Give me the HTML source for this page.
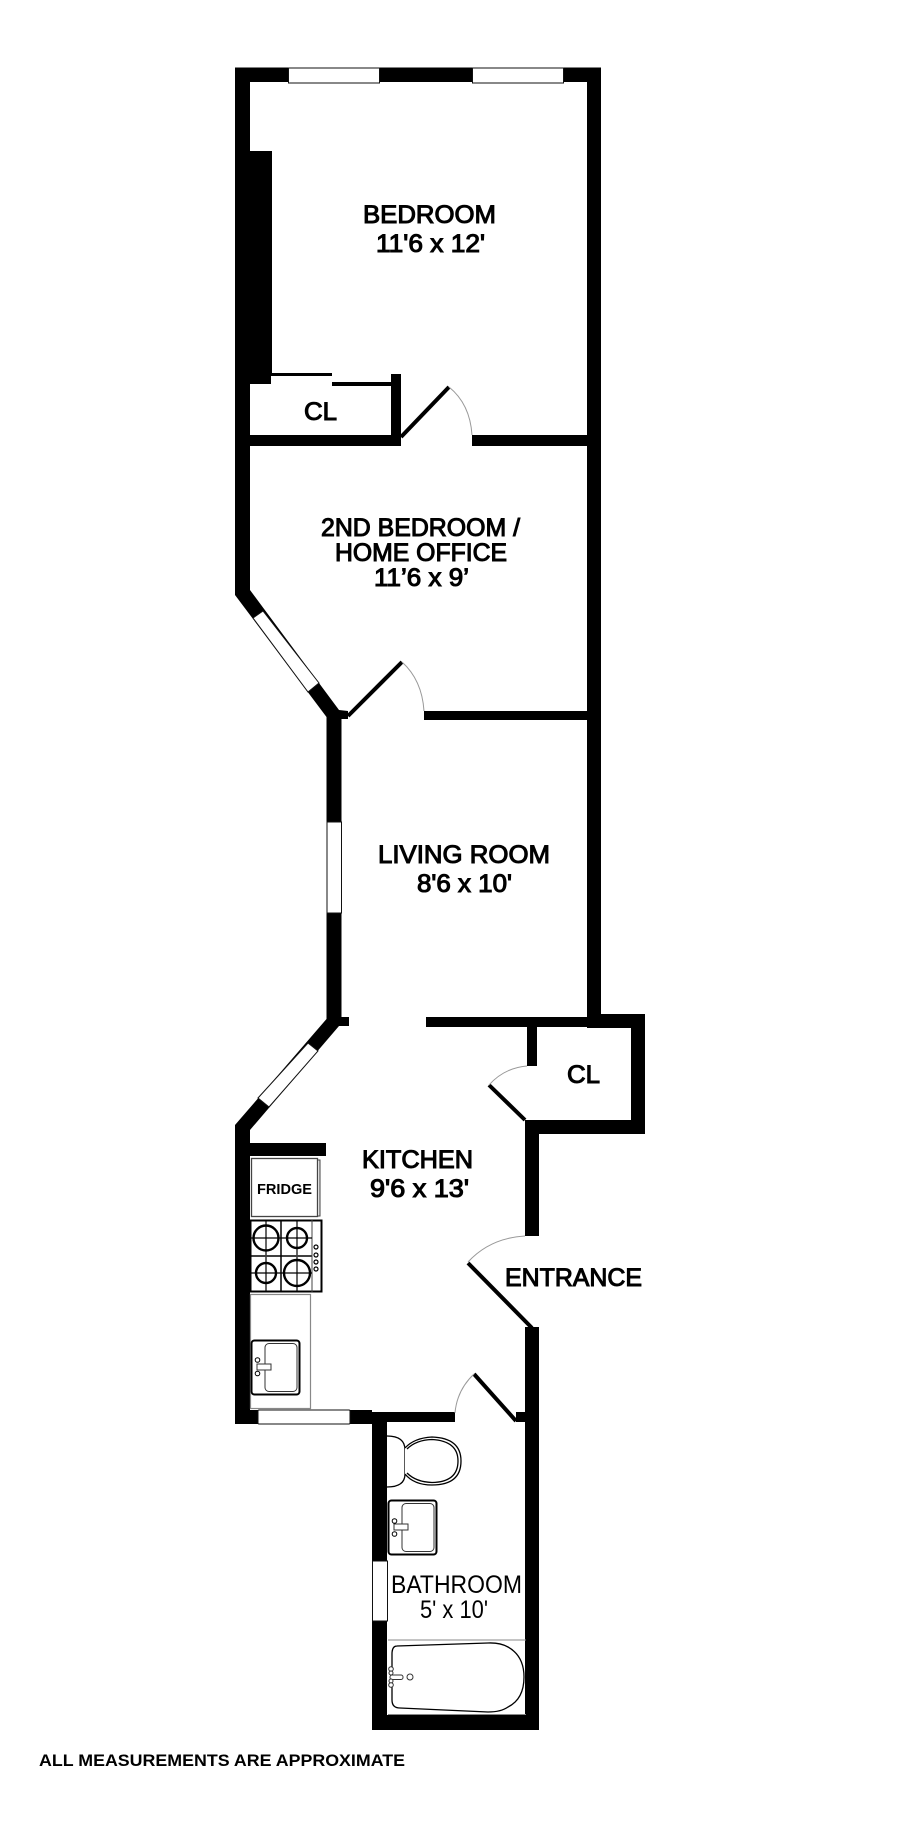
<!DOCTYPE html>
<html><head><meta charset="utf-8"><style>
html,body{margin:0;padding:0;background:#fff}
svg{display:block}
text{font-family:"Liberation Sans",Arial,sans-serif;fill:#000}
.b{stroke:#000;stroke-width:1.050}
</style></head><body>
<svg xmlns="http://www.w3.org/2000/svg" width="900" height="1822" viewBox="0 0 900 1822">
<rect width="900" height="1822" fill="#fff"/>
<!-- walls -->
<g fill="#000">
<path d="M235 67.5H601V1014H645V1134H539V1236H525V1120H631V1028H601H587V82H250V151H272V373H332V376H271V384H250V435H391V374H401V446H250V590L339 710L348 711V719H341.500V1017H349V1026H339L250 1130V1143H326V1156H250V1410H372V1424H235V1125L326.500 1019V717L235 595Z"/>
<rect x="332" y="382" width="60" height="4"/>
<rect x="472" y="435" width="116" height="11"/>
<rect x="424" y="711" width="164" height="9"/>
<rect x="426" y="1017" width="162" height="10"/>
<rect x="527" y="1026" width="10" height="40"/>
<path d="M525 1120H531V1134H525Z"/>
<path d="M525 1327H539V1715V1730H372V1412H455V1422H387V1715H525V1422H516V1412H525Z"/>
</g>
<!-- windows -->
<g fill="#fff" stroke="#111" stroke-width="1">
<rect x="288.500" y="68" width="91" height="15"/>
<rect x="472.500" y="68" width="91" height="15"/>
<path d="M263 611L253 618L308 692L319 683Z"/>
<rect x="327" y="822" width="14.500" height="91"/>
<path d="M308 1043L318 1051L269 1107L258 1098Z"/>
<rect x="258" y="1410" width="92" height="14" rx="1"/>
<rect x="372.500" y="1561" width="15" height="60"/>
</g>
<!-- doors -->
<g stroke="#000" stroke-width="4" fill="none">
<path d="M401 437L449 387"/>
<path d="M348 716L402 662"/>
<path d="M489 1085L525 1120"/>
<path d="M468 1263L532 1328"/>
<path d="M474 1374L516 1421"/>
</g>
<g stroke="#999" stroke-width="1" fill="none">
<path d="M449 387Q470 404 472 435"/>
<path d="M402 662Q422 680 424 711"/>
<path d="M489 1085Q504 1068 527 1066"/>
<path d="M468 1262Q490 1238 525 1236"/>
<path d="M474 1374Q457 1390 455 1413"/>
</g>
<!-- fridge -->
<rect x="251.500" y="1158.500" width="66" height="58" fill="#fff" stroke="#444" stroke-width="1.300"/>
<rect x="317.500" y="1160" width="2.500" height="56" fill="#ddd" stroke="#444" stroke-width="1"/>
<!-- stove -->
<g fill="none" stroke="#000">
<rect x="250.500" y="1220.500" width="71" height="71" stroke-width="2"/>
<path d="M281 1220V1292M250 1256H312" stroke-width="1.500"/>
<path d="M312 1220V1292" stroke-width="1" stroke="#444"/>
<g stroke-width="2.400">
<circle cx="266" cy="1238" r="12.500"/><circle cx="297" cy="1238" r="10"/>
<circle cx="266" cy="1273" r="10"/><circle cx="297" cy="1273" r="13"/>
</g>
<g stroke-width="1.200">
<path d="M251 1238H281M266 1221V1255M281 1238H312M297 1221V1255M251 1273H312M266 1257V1291M297 1257V1291"/>
<circle cx="316" cy="1247" r="2"/><circle cx="316" cy="1255" r="2"/><circle cx="316" cy="1262" r="2"/><circle cx="316" cy="1269" r="2"/>
</g>
</g>
<!-- counter -->
<rect x="250.500" y="1294.500" width="60" height="114" fill="none" stroke="#888" stroke-width="1.200"/>
<!-- sinks -->
<g fill="#fff" stroke="#000">
<rect x="251.500" y="1340.500" width="48" height="54" rx="3" stroke-width="2"/>
<rect x="265" y="1343.500" width="32" height="48" rx="4" stroke="#333" stroke-width="1"/>
<rect x="257" y="1364" width="14" height="6" stroke-width="1" stroke="#333"/>
<circle cx="257.500" cy="1360" r="2.300" stroke-width="1"/><circle cx="257.500" cy="1373.500" r="2.300" stroke-width="1"/>
<rect x="388.500" y="1500.500" width="48" height="54" rx="3" stroke-width="2"/>
<rect x="402" y="1503.500" width="32" height="48" rx="4" stroke="#333" stroke-width="1"/>
<rect x="394" y="1524" width="14" height="6" stroke-width="1" stroke="#333"/>
<circle cx="394.500" cy="1521" r="2.300" stroke-width="1"/><circle cx="394.500" cy="1534" r="2.300" stroke-width="1"/>
</g>
<!-- toilet -->
<g fill="#fff" stroke="#000" stroke-width="1.300">
<path d="M387 1436Q405 1436 405 1450V1474Q405 1487 387 1487" />
<path d="M405 1448Q414 1438 432 1437Q461 1438 461 1461Q461 1485 432 1485Q414 1485 405 1474" />
<path d="M407 1449Q416 1440 432 1439.500Q458 1441 458 1461Q458 1482 432 1482.500Q416 1482 407 1473" fill="none"/>
</g>
<!-- tub -->
<path d="M388 1640H526" fill="none" stroke="#888" stroke-width="1"/>
<path d="M388 1714.500H526" fill="none" stroke="#888" stroke-width="1"/>
<path d="M397 1646L488 1643Q500 1642.500 508 1647Q524 1656 524 1677Q524 1699 508 1707Q501 1712 488 1712L400 1708Q392 1708 392 1700V1654Q392 1646 397 1646Z" fill="#fff" stroke="#000" stroke-width="1.300"/>
<g fill="#fff" stroke="#333" stroke-width="1">
<rect x="390" y="1675" width="13" height="4.500" rx="2"/>
<circle cx="391" cy="1669" r="2.300"/><circle cx="391" cy="1673" r="2"/><circle cx="391" cy="1681" r="2"/><circle cx="391" cy="1685" r="2.300"/>
<circle cx="410" cy="1677" r="3"/>
</g>
<!-- labels -->
<g font-size="25">
<text class="b" x="363" y="223" textLength="133" lengthAdjust="spacingAndGlyphs">BEDROOM</text>
<text class="b" x="376" y="252" textLength="109" lengthAdjust="spacingAndGlyphs">11'6 x 12'</text>
<text class="b" x="304" y="420" textLength="33" lengthAdjust="spacingAndGlyphs">CL</text>
<text class="b" x="321" y="536" textLength="199" lengthAdjust="spacingAndGlyphs">2ND BEDROOM /</text>
<text class="b" x="335" y="561" textLength="172" lengthAdjust="spacingAndGlyphs">HOME OFFICE</text>
<text class="b" x="374" y="586" textLength="95" lengthAdjust="spacingAndGlyphs">11’6 x 9’</text>
<text class="b" x="378" y="863" textLength="172" lengthAdjust="spacingAndGlyphs">LIVING ROOM</text>
<text class="b" x="417" y="892" textLength="95" lengthAdjust="spacingAndGlyphs">8'6 x 10'</text>
<text class="b" x="362" y="1168" textLength="111" lengthAdjust="spacingAndGlyphs">KITCHEN</text>
<text class="b" x="370" y="1197" textLength="99" lengthAdjust="spacingAndGlyphs">9'6 x 13'</text>
<text class="b" x="567" y="1083" textLength="33" lengthAdjust="spacingAndGlyphs">CL</text>
<text class="b" x="505" y="1286" textLength="137" lengthAdjust="spacingAndGlyphs">ENTRANCE</text>
<text x="391" y="1593" textLength="131" lengthAdjust="spacingAndGlyphs">BATHROOM</text>
<text x="420" y="1618" textLength="68" lengthAdjust="spacingAndGlyphs">5' x 10'</text>
</g>
<text font-weight="bold" x="257" y="1194" font-size="15" textLength="55" lengthAdjust="spacingAndGlyphs">FRIDGE</text>
<text font-weight="bold" x="39" y="1766" font-size="17" textLength="366" lengthAdjust="spacingAndGlyphs">ALL MEASUREMENTS ARE APPROXIMATE</text>
</svg>
</body></html>
